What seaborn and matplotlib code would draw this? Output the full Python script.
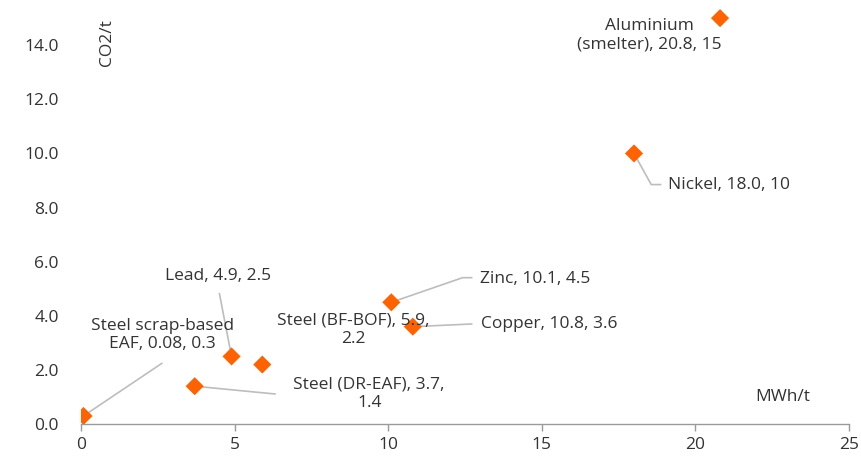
import matplotlib
matplotlib.use("Agg")
import matplotlib.pyplot as plt
import seaborn as sns
import pandas as pd

# Energy intensity (MWh/t) and emissions intensity (CO2/t) by metal
metals = ["Aluminium\n(smelter)", "Nickel", "Zinc", "Copper", "Steel (BF-BOF)",
          "Lead", "Steel scrap-based\nEAF", "Steel (DR-EAF)"]
mwh_per_t = [20.8, 18.0, 10.1, 10.8, 5.9, 4.9, 0.08, 3.7]
co2_per_t = [15, 10, 4.5, 3.6, 2.2, 2.5, 0.3, 1.4]
label_values = ["20.8, 15", "18.0, 10", "10.1, 4.5", "10.8, 3.6", "5.9,\n2.2",
                "4.9, 2.5", "0.08, 0.3", "3.7,\n1.4"]
x_ticks = [0, 5, 10, 15, 20, 25]
y_ticks = [0, 2, 4, 6, 8, 10, 12, 14]

df = pd.DataFrame({"metal": metals, "mwh": mwh_per_t, "co2": co2_per_t})

sns.set_theme(style="white")
plt.rcParams["font.family"] = ["Open Sans", "DejaVu Sans"]
TEXT = "#333333"
ORANGE = "#ff6200"
LEADER = "#bdbdbd"
FS = 12.5

fig = plt.figure(figsize=(8.62, 4.57), dpi=100)
ax = fig.add_axes([0.094, 0.072, 0.891, 0.912])

sns.scatterplot(data=df, x="mwh", y="co2", marker="D", s=85, color=ORANGE,
                edgecolor="none", ax=ax, zorder=3, legend=False)

ax.set_xlim(0, 25)
ax.set_ylim(0, 15.4)
ax.set_xticks(x_ticks)
ax.set_xticklabels([str(t) for t in x_ticks])
ax.set_yticks(y_ticks)
ax.set_yticklabels([f"{t:.1f}" for t in y_ticks])
ax.tick_params(axis="x", length=5, width=1, color="#9a9a9a", labelsize=FS,
               labelcolor=TEXT, pad=4, bottom=True)
ax.tick_params(axis="y", length=0, labelsize=FS, labelcolor=TEXT, pad=16)
for side in ["top", "right", "left"]:
    ax.spines[side].set_visible(False)
ax.spines["bottom"].set_color("#9a9a9a")
ax.spines["bottom"].set_linewidth(1)
ax.set_xlabel("")
ax.set_ylabel("")

# Data labels: (text position, alignment, leader path)
labels = {
    0: dict(xy=(18.5, 14.37), ha="center", path=None),
    1: dict(xy=(19.11, 8.85), ha="left", path=[(18.56, 8.85), (18.89, 8.85)]),
    2: dict(xy=(13.0, 5.37), ha="left", path=[(12.42, 5.41), (12.74, 5.41)]),
    3: dict(xy=(13.03, 3.70), ha="left", path=[(12.74, 3.70)]),
    4: dict(xy=(8.86, 3.48), ha="center", path=None),
    5: dict(xy=(4.46, 5.48), ha="center", path=[(4.5, 4.85)]),
    6: dict(xy=(2.65, 3.30), ha="center", path=[(2.65, 2.26)]),
    7: dict(xy=(9.38, 1.11), ha="center", path=[(6.34, 1.11)]),
}
for i, spec in labels.items():
    txt = f"{metals[i]}, {label_values[i]}"
    ax.text(spec["xy"][0], spec["xy"][1], txt, ha=spec["ha"], va="center",
            fontsize=FS, color=TEXT, linespacing=1.2, zorder=4)
    if spec["path"]:
        xs = [mwh_per_t[i]] + [p[0] for p in spec["path"]]
        ys = [co2_per_t[i]] + [p[1] for p in spec["path"]]
        ax.plot(xs, ys, color=LEADER, lw=1.2, zorder=2, solid_capstyle="butt")

ax.text(0.84, 14.1, "CO2/t", rotation=90, ha="center", va="center",
        fontsize=FS, color=TEXT)
ax.text(22.83, 1.0, "MWh/t", ha="center", va="center", fontsize=FS, color=TEXT)

fig.savefig("out.png", dpi=100)
